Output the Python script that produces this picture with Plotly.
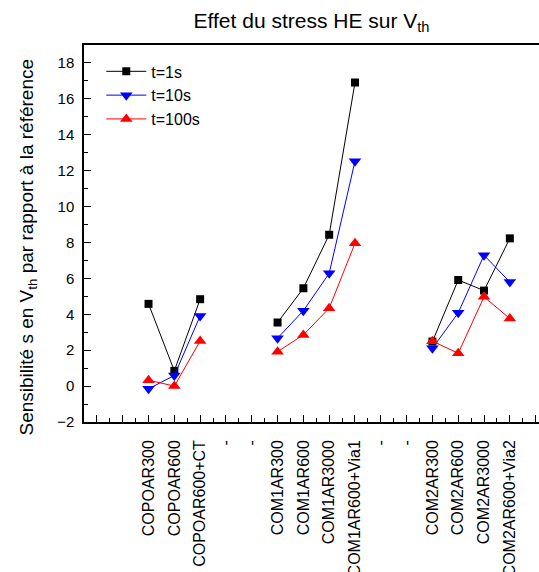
import plotly.graph_objects as go

# Category labels at x positions 1..18 (empty slots between groups)
categories = ["", "", "COPOAR300", "COPOAR600", "COPOAR600+CT", "-", "-",
              "COM1AR300", "COM1AR600", "COM1AR3000", "COM1AR600+Via1", "-", "-",
              "COM2AR300", "COM2AR600", "COM2AR3000", "COM2AR600+Via2", "-"]

t1s = [None, None, 4.58, 0.85, 4.84, None, None,
       3.54, 5.45, 8.43, 16.91, None, None,
       2.48, 5.91, 5.32, 8.23, None]
t10s = [None, None, -0.15, 0.59, 3.91, None, None,
        2.67, 4.20, 6.28, 12.53, None, None,
        2.11, 4.08, 7.29, 5.80, None]
t100s = [None, None, 0.33, 0.0, 2.51, None, None,
         1.92, 2.85, 4.34, 7.95, None, None,
         2.50, 1.83, 4.97, 3.76, None]

positions = list(range(1, len(categories) + 1))

FONT = "Arial, 'Liberation Sans', sans-serif"

fig = go.Figure()
fig.add_trace(go.Scatter(x=positions, y=t1s, mode="lines+markers", name="t=1s",
                         line=dict(color="black", width=1),
                         marker=dict(symbol="square", size=8, color="black")))
fig.add_trace(go.Scatter(x=positions, y=t10s, mode="lines+markers", name="t=10s",
                         line=dict(color="#0000ff", width=1),
                         marker=dict(symbol="triangle-down", size=11, color="#0000ff")))
fig.add_trace(go.Scatter(x=positions, y=t100s, mode="lines+markers", name="t=100s",
                         line=dict(color="#ff0000", width=1),
                         marker=dict(symbol="triangle-up", size=11, color="#ff0000")))

fig.update_layout(
    width=539, height=572,
    margin=dict(l=84, r=0, t=45, b=150, autoexpand=False),
    paper_bgcolor="white", plot_bgcolor="white",
    font=dict(family=FONT, color="black", size=15),
    title=dict(text="Effet du stress HE sur V<sub>th</sub>", x=0.578, xanchor="center",
               y=0.964, yanchor="middle", font=dict(size=21, family=FONT)),
    showlegend=True,
    legend=dict(x=0.038, y=0.975, xanchor="left", yanchor="top",
                bgcolor="rgba(0,0,0,0)", font=dict(size=16, family=FONT),
                tracegroupgap=0, itemwidth=40),
    xaxis=dict(range=[0.5, 18.13], tickmode="array", tickvals=positions,
               ticktext=categories, tickangle=-90, ticks="inside", ticklen=7,
               tickwidth=1, tickcolor="black", automargin=False,
               minor=dict(tickvals=[p + 0.5 for p in positions[:-1]], ticks="inside",
                          ticklen=4, tickwidth=1, tickcolor="black"),
               showline=True, linecolor="black", linewidth=1.5, mirror=True,
               showgrid=False, zeroline=False, tickfont=dict(size=16),
               ticklabelstandoff=10),
    yaxis=dict(range=[-2, 19], tickmode="linear", tick0=0, dtick=2,
               ticks="inside", ticklen=7, tickwidth=1, tickcolor="black",
               automargin=False,
               minor=dict(dtick=1, tick0=0, ticks="inside", ticklen=4,
                          tickwidth=1, tickcolor="black"),
               showline=True, linecolor="black", linewidth=1.5,
               showgrid=False, zeroline=False, tickfont=dict(size=15),
               ticklabelstandoff=5),
)

fig.add_annotation(text="Sensibilité s en V<sub>th</sub> par rapport à la référence",
                   xref="paper", yref="paper", x=-0.123, y=0.463,
                   xanchor="center", yanchor="middle", textangle=-90,
                   showarrow=False, font=dict(size=19, family=FONT))

fig.write_html("out.html", config={"displayModeBar": False},
               post_script="document.body.style.margin='0';document.body.style.overflow='hidden';")
